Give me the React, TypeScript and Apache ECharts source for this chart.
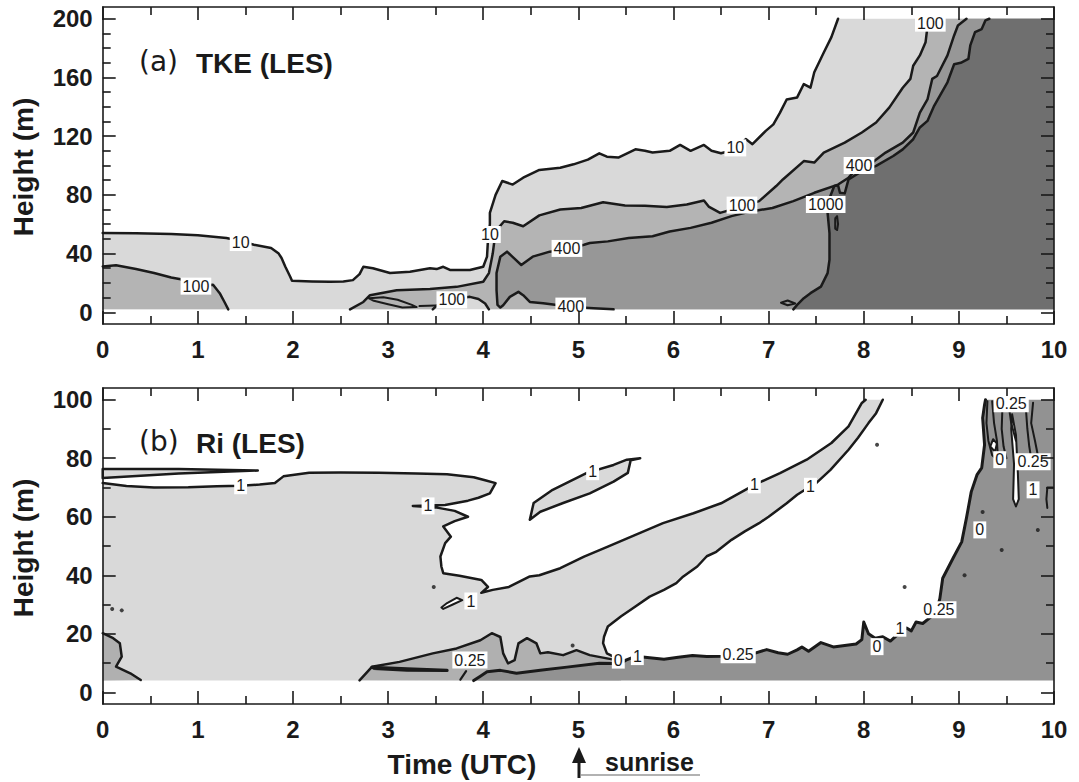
import React, { useEffect, useRef } from "react";
import * as echarts from "echarts";

// ---- axis ranges and tick labels ----
const TIME_MIN = 0;
const TIME_MAX = 10;
const TKE_BASE = 2; // lowest model level (m)
const TKE_TOP = 200;
const RI_BASE = 4;
const RI_TOP = 100;
const timeTicks = [0, 1, 2, 3, 4, 5, 6, 7, 8, 9, 10];
const tkeHeightLabels = [0, 40, 80, 120, 160, 200];
const riHeightLabels = [0, 20, 40, 60, 80, 100];

// ---- (a) TKE contours, [time UTC, height m] ----
const tke10Line = [
  [0, 54], [0.35, 53.8], [0.72, 53.4], [1.0, 52.5], [1.3, 50.6], [1.45, 48.5], [1.59, 46], [1.77, 43.8],
  [1.85, 40], [1.88, 37], [1.92, 31], [1.97, 24.4], [1.99, 21.5], [2.2, 21], [2.39, 20.8], [2.53, 21],
  [2.63, 21.9], [2.7, 26], [2.74, 31], [2.84, 30], [3.02, 26.7], [3.23, 27.6], [3.44, 30], [3.51, 29.4],
  [3.58, 31], [3.65, 28.8], [3.86, 28.8], [4.0, 31], [4.04, 37.9], [4.05, 49.3], [4.07, 60], [4.07, 67.7],
  [4.13, 80], [4.2, 89.4], [4.31, 87], [4.42, 91.7], [4.59, 97], [4.81, 98.5], [4.95, 100.8], [5.1, 104],
  [5.22, 108.3], [5.3, 106], [5.42, 105.4], [5.6, 111], [5.7, 110], [5.78, 108.8], [5.96, 110], [6.07, 114],
  [6.18, 110], [6.25, 112], [6.32, 114], [6.4, 110], [6.5, 108.3], [6.65, 111], [6.76, 118], [6.83, 114.5],
  [6.97, 123.6], [7.05, 128], [7.12, 136], [7.19, 145], [7.3, 146.4], [7.37, 155.5], [7.44, 153], [7.48, 163.5],
  [7.58, 177], [7.66, 187.5], [7.73, 200],
];
const tke100LeftLine = [
  [0, 31.2], [0.14, 32], [0.35, 29.5], [0.54, 26.7], [0.72, 23.7], [0.82, 22.5], [0.98, 18], [1.16, 18.7],
  [1.23, 13], [1.28, 7], [1.32, 2],
];
const tke100Line = [
  [2.6, 2], [2.74, 7], [2.81, 11.6], [3.09, 15], [3.44, 15.8], [3.72, 17.3], [4.0, 20.8], [4.06, 26.7],
  [4.1, 40], [4.12, 50], [4.14, 56], [4.22, 62], [4.31, 61], [4.42, 58.6], [4.59, 66], [4.81, 70],
  [5.03, 71], [5.26, 75], [5.49, 72.7], [5.7, 72.5], [5.93, 71.8], [6.14, 73.4], [6.32, 76.2], [6.37, 72],
  [6.49, 67.7], [6.72, 72], [6.9, 75.7], [7.08, 86], [7.15, 90.5], [7.37, 103], [7.48, 102], [7.58, 108.8],
  [7.8, 115.6], [7.98, 122.5], [8.13, 129.3], [8.27, 139.6], [8.41, 153], [8.49, 159], [8.52, 168],
  [8.59, 175], [8.65, 184], [8.68, 200],
];
const tke100LowerLine = [
  [4.06, 2], [4.02, 6], [3.95, 9], [3.86, 10.5], [3.75, 9.5], [3.6, 8.5], [3.52, 5], [3.47, 2],
];
const tke400Loop = [
  [2.8, 9.5], [2.95, 10.2], [3.1, 8.5], [3.25, 5], [3.3, 3.5], [3.15, 3.2], [3.0, 5.5], [2.85, 7.8], [2.8, 9.5],
];
const tke400Dash = [[3.33, 4.2], [3.5, 4.6]];
const tke400Line = [
  [5.37, 2], [5.16, 2.7], [4.94, 3.6], [4.63, 6.2], [4.49, 7], [4.42, 11.6], [4.37, 13.9], [4.28, 10.5],
  [4.21, 4.8], [4.18, 3.2], [4.15, 5], [4.14, 15], [4.14, 26.7], [4.18, 37.9], [4.25, 41.3], [4.32, 37],
  [4.4, 32.2], [4.52, 37.9], [4.7, 41.3], [4.88, 43], [5.06, 46], [5.12, 47.2], [5.31, 48.3], [5.53, 50.6],
  [5.78, 51.8], [5.96, 55], [6.18, 57.5], [6.4, 61], [6.61, 65.5], [6.83, 68.9], [7.04, 71], [7.26, 75.7],
  [7.48, 81.4], [7.73, 87], [7.84, 91.7], [7.93, 98], [8.09, 102], [8.23, 108.8], [8.41, 115.6], [8.52, 122.5],
  [8.59, 136], [8.67, 145], [8.72, 159], [8.77, 161], [8.88, 175], [8.95, 188.6], [8.99, 195.4], [9.08, 200],
];
const tke1000Line = [
  [7.26, 2], [7.3, 5], [7.37, 9.6], [7.44, 13], [7.55, 17.5], [7.62, 26.7], [7.64, 35.8], [7.64, 54],
  [7.62, 67.7], [7.63, 76], [7.69, 86], [7.73, 86.5], [7.75, 81.4], [7.8, 81], [7.84, 90.5], [7.95, 95],
  [8.13, 99.7], [8.31, 106.5], [8.41, 111], [8.52, 117.9], [8.59, 125.9], [8.67, 130.4], [8.74, 140.7],
  [8.81, 148.7], [8.88, 156.7], [8.95, 169], [9.02, 170], [9.1, 172.6], [9.12, 181.8], [9.17, 190.9],
  [9.24, 193], [9.28, 198.9], [9.32, 200],
];
const tke1000Loop = [[7.13, 6.5], [7.2, 8], [7.28, 6], [7.2, 4.8], [7.13, 6.5]];
const tke1000Drop = [[7.7, 64], [7.72, 65.5], [7.73, 60], [7.72, 56], [7.7, 57], [7.7, 64]];
const tkeLabels = [
  [1.45, 47.5, "10"], [0.98, 17.8, "100"], [3.67, 8.5, "100"], [4.07, 53, "10"], [4.88, 43.5, "400"],
  [4.92, 4.2, "400"], [6.65, 112, "10"], [6.72, 73, "100"], [7.95, 100, "400"], [7.6, 73.4, "1000"],
  [8.7, 197, "100"],
];

// ---- (b) Richardson number contours, [time UTC, height m] ----
const riWedgeLine = [[0, 76.3], [0.8, 76.3], [1.63, 75.8], [0.8, 74.8], [0, 73.2]];
const riOneUpper = [
  [0, 71.5], [0.25, 70.5], [0.54, 70], [0.9, 70.1], [1.2, 70.4], [1.45, 70.6], [1.65, 71], [1.81, 71.5],
  [1.9, 73.8], [2.17, 75], [2.5, 75.1], [2.9, 75], [3.3, 74.8], [3.62, 74.5], [3.9, 73.5], [4.02, 72.5],
  [4.13, 71.5], [4.07, 68], [3.95, 66.5], [3.84, 65.5], [3.6, 64], [3.26, 63.7], [3.5, 63.2], [3.7, 62],
  [3.84, 60], [3.7, 58.5], [3.58, 56.7], [3.66, 53.2], [3.6, 51], [3.55, 46.4], [3.56, 43], [3.58, 40.7],
  [3.75, 39.8], [3.98, 38.4], [4.05, 36], [3.98, 34], [4.1, 35], [4.27, 36], [4.49, 39.6], [4.59, 40],
  [4.81, 42.4], [5.06, 46.4], [5.31, 49.8], [5.6, 53.8], [5.89, 57.8], [6.21, 61.2], [6.5, 64.6],
  [6.85, 70.9], [7.12, 74.9], [7.4, 79.5], [7.66, 85.2], [7.84, 90.9], [7.98, 98.9], [8.02, 100],
];
const riOneLower = [
  [8.2, 100], [8.13, 95.4], [8.05, 92], [7.94, 87], [7.84, 82.9], [7.65, 76], [7.5, 71.5], [7.44, 70.4],
  [7.3, 67.5], [7.19, 64.6], [7.0, 60], [6.9, 57.8], [6.75, 55], [6.61, 52.1], [6.45, 48], [6.35, 46.5],
  [6.25, 43], [6.1, 39.5], [6.03, 37.3], [5.9, 35], [5.75, 32.7], [5.6, 29.3], [5.45, 26], [5.31, 22.5],
  [5.27, 19], [5.26, 16.8], [5.3, 13.3], [5.38, 12],
];
const riHole = [[3.58, 28.5], [3.68, 30], [3.78, 31.5], [3.72, 32.3], [3.62, 30.5], [3.56, 29], [3.58, 28.5]];
const riIsland = [
  [4.49, 59], [4.53, 64.7], [4.73, 69.2], [5.09, 75], [5.37, 77.7], [5.51, 79.5], [5.65, 80], [5.55, 79.3],
  [5.52, 75], [5.37, 72], [5.12, 68], [4.84, 64.7], [4.6, 61.7], [4.49, 59],
];
const riQuarterLine = [
  [2.7, 4.1], [2.83, 8.7], [3.12, 10.4], [3.47, 13.3], [3.72, 15], [3.97, 17.8], [4.09, 20.2], [4.18, 18.9],
  [4.21, 13.3], [4.26, 9.9], [4.33, 11], [4.37, 16.7], [4.46, 18.5], [4.56, 16.7], [4.6, 13.3], [4.68, 13.7],
  [4.84, 12.7], [4.98, 14.4], [5.12, 12.7], [5.3, 11.6], [5.4, 11],
];
const riZeroSliver = [[2.83, 8.5], [3.2, 8.0], [3.62, 7.5], [3.2, 7.6], [2.85, 8.2]];
const riZeroStroke = [[3.76, 4.3], [3.82, 7.2]];
const riZeroLine = [
  [3.9, 4], [3.97, 5.5], [4.04, 7], [4.18, 7.5], [4.35, 6.5], [4.6, 7.5], [4.88, 8.6], [5.22, 9.9],
  [5.44, 9.8], [5.5, 11], [5.6, 12.3], [5.75, 11.8], [5.9, 11.3], [6.05, 12], [6.2, 12.6], [6.35, 12.2],
  [6.5, 12.3], [6.7, 13], [6.85, 13.3], [6.98, 14.6], [7.1, 13.5], [7.2, 13], [7.3, 14.5], [7.35, 15.5],
  [7.42, 14], [7.55, 17], [7.68, 15.5], [7.8, 16], [7.92, 16.5], [7.98, 18], [8.0, 24], [8.05, 20],
  [8.12, 18.5], [8.2, 19], [8.28, 17.5], [8.35, 19.5], [8.45, 22], [8.5, 21], [8.55, 24], [8.62, 23.5],
  [8.7, 25.6], [8.76, 27.5], [8.8, 32], [8.83, 39], [8.94, 45.9], [9.03, 51.4], [9.08, 59.6], [9.13, 68.5],
  [9.19, 74.3], [9.24, 76.7], [9.27, 84.6], [9.25, 93.8], [9.27, 98.3], [9.28, 100],
];
const riLeftLine = [
  [0, 20.2], [0.11, 18.5], [0.18, 16.8], [0.2, 12.2], [0.14, 8.8], [0.29, 6.5], [0.4, 4.2],
];
const riStreakA = [
  [9.56, 95], [9.6, 88], [9.62, 75], [9.63, 66], [9.6, 63.5], [9.57, 66], [9.58, 78], [9.55, 90], [9.56, 95],
];
const riStreakB = [[9.33, 84], [9.36, 86.5], [9.4, 85], [9.38, 82.2], [9.33, 84]];
const riScribbles = [
  [[9.3, 99.5], [9.29, 92], [9.31, 86], [9.35, 81], [9.42, 79]],
  [[9.35, 99.5], [9.37, 92], [9.4, 86], [9.41, 80]],
  [[9.46, 99.5], [9.45, 90], [9.47, 84], [9.5, 80]],
  [[9.52, 99], [9.55, 92], [9.6, 86]],
  [[9.7, 99], [9.72, 90], [9.74, 84], [9.76, 80]],
  [[9.78, 99], [9.76, 92], [9.8, 86], [9.83, 81]],
  [[9.99, 70], [9.93, 70], [9.92, 66], [9.93, 63]],
];
const riSpecks = [
  [0.1, 28.5], [0.2, 28], [3.48, 36], [4.94, 16], [8.14, 84.6], [8.43, 36], [9.06, 40], [9.45, 48.6],
  [9.83, 55.5], [9.25, 61.6],
];
const riLabels = [
  [1.45, 70.6, "1"], [3.42, 63.7, "1"], [3.87, 31.2, "1"], [5.15, 75.4, "1"], [6.85, 70.9, "1"],
  [7.44, 70.4, "1"], [3.86, 11, "0.25"], [5.42, 11, "0"], [5.62, 12.2, "1"], [6.68, 12.8, "0.25"],
  [8.14, 15.6, "0"], [8.38, 21.9, "1"], [8.79, 28.2, "0.25"], [9.22, 55.5, "0"], [9.43, 79.5, "0"],
  [9.78, 78.8, "0.25"], [9.78, 69.2, "1"], [9.55, 98.6, "0.25"],
];

// ---- styling ----
const INK = "#1a1a1a";
const SANS = "'Liberation Sans', Arial, Helvetica, sans-serif";
const TKE_SHADES = { c10: "#d9d9d9", c100: "#b4b4b4", c400: "#979797", c1000: "#6f6f6f" };
const RI_SHADES = { light: "#d9d9d9", mid: "#b0b0b0", dark: "#929292" };
const LINE_W = 2.5;

type Pt = number[];

const fillSeries = (pts: Pt[], color: string, xi: number, yi: number, z: number) => ({
  type: "custom",
  xAxisIndex: xi,
  yAxisIndex: yi,
  z,
  silent: true,
  data: [pts[0]],
  renderItem: (_params: any, api: any) => ({
    type: "polygon",
    shape: { points: pts.map((p) => api.coord(p)) },
    style: { fill: color, stroke: "none" },
  }),
});

const lineSeries = (pts: Pt[], xi: number, yi: number, width = LINE_W) => ({
  type: "line",
  xAxisIndex: xi,
  yAxisIndex: yi,
  z: 10,
  silent: true,
  data: pts,
  symbol: "none",
  showSymbol: false,
  lineStyle: { color: INK, width, join: "round", cap: "round" },
});

const labelSeries = (items: any[], xi: number, yi: number) => ({
  type: "custom",
  xAxisIndex: xi,
  yAxisIndex: yi,
  z: 12,
  silent: true,
  data: items.map((d) => [d[0], d[1]]),
  renderItem: (params: any, api: any) => {
    const d = items[params.dataIndex];
    const [px, py] = api.coord([d[0], d[1]]);
    return {
      type: "text",
      x: px,
      y: py,
      style: {
        text: d[2],
        fill: INK,
        font: `16px ${SANS}`,
        align: "center",
        verticalAlign: "middle",
        backgroundColor: "#ffffff",
        padding: [1, 2, 0, 2],
      },
    };
  },
});

const tickFont = { color: INK, fontFamily: SANS, fontWeight: "bold" as const, fontSize: 24 };
const frameLine = { color: INK, width: 1.6 };

const xAxisFor = (gridIndex: number, position: string, showLabels: boolean) => ({
  type: "value",
  gridIndex,
  position,
  min: TIME_MIN,
  max: TIME_MAX,
  interval: 1,
  z: 20,
  axisLine: { show: true, onZero: false, lineStyle: frameLine },
  axisTick: { show: true, inside: true, length: 13, lineStyle: frameLine },
  minorTick: { show: true, splitNumber: 2, length: 8, lineStyle: frameLine },
  axisLabel: {
    show: showLabels,
    margin: 13,
    showMinLabel: true,
    showMaxLabel: true,
    customValues: timeTicks,
    ...tickFont,
  },
  splitLine: { show: false },
  minorSplitLine: { show: false },
});

const yAxisFor = (
  gridIndex: number,
  position: string,
  min: number,
  max: number,
  ticks: number[],
  len: number,
  showLabels: boolean,
  showLine: boolean
) => ({
  type: "value",
  gridIndex,
  position,
  min,
  max,
  z: 20,
  axisLine: { show: showLine, onZero: false, lineStyle: frameLine },
  axisTick: { show: true, inside: true, length: len, customValues: ticks, lineStyle: frameLine },
  axisLabel: { show: showLabels, customValues: ticks, margin: 10, ...tickFont },
  splitLine: { show: false },
});

// minor height ticks every 10 m between labelled ones
const minorTicks = (labels: number[]) => {
  const out: number[] = [];
  for (let h = labels[0]; h <= labels[labels.length - 1]; h += 10) {
    if (!labels.includes(h)) out.push(h);
  }
  return out;
};

export default function App() {
  const ref = useRef<HTMLDivElement>(null);

  useEffect(() => {
    if (!ref.current) return;
    const chart = echarts.init(ref.current, undefined, { renderer: "svg" });

    const tkePad = (TKE_TOP - 0) * 0.04;
    const riPad = (RI_TOP - 0) * 0.04;

    const tkeFill10 = [...tke10Line, [TIME_MAX, TKE_TOP], [TIME_MAX, TKE_BASE], [TIME_MIN, TKE_BASE]];
    const tkeFill100Left = [...tke100LeftLine, [TIME_MIN, TKE_BASE]];
    const tkeFill100 = [...tke100Line, [TIME_MAX, TKE_TOP], [TIME_MAX, TKE_BASE], ...tke100LowerLine];
    const tkeFill400 = [...tke400Line, [TIME_MAX, TKE_TOP], [TIME_MAX, TKE_BASE]];
    const tkeFill1000 = [...tke1000Line, [TIME_MAX, TKE_TOP], [TIME_MAX, TKE_BASE]];

    const lowerEnd = riOneLower[riOneLower.length - 1];
    const quarterEnd = riQuarterLine[riQuarterLine.length - 1];
    const riFillLight = [...riOneUpper, ...riOneLower, [lowerEnd[0] + 0.05, RI_BASE], [TIME_MIN, RI_BASE]];
    const riFillLeft = [...riLeftLine, [TIME_MIN, RI_BASE]];
    const riFillMid = [...riQuarterLine, [quarterEnd[0] + 0.05, RI_BASE]];
    const riFillDark = [...riZeroLine, [TIME_MAX, RI_TOP], [TIME_MAX, RI_BASE]];

    const series: any[] = [
      // panel (a)
      fillSeries(tkeFill10, TKE_SHADES.c10, 0, 0, 1),
      fillSeries(tkeFill100Left, TKE_SHADES.c100, 0, 0, 2),
      fillSeries(tkeFill100, TKE_SHADES.c100, 0, 0, 2),
      fillSeries(tkeFill400, TKE_SHADES.c400, 0, 0, 3),
      fillSeries(tkeFill1000, TKE_SHADES.c1000, 0, 0, 4),
      fillSeries(tke1000Drop, TKE_SHADES.c1000, 0, 0, 5),
      lineSeries(tke10Line, 0, 0),
      lineSeries(tke100LeftLine, 0, 0),
      lineSeries(tke100Line, 0, 0),
      lineSeries(tke100LowerLine, 0, 0),
      lineSeries(tke400Loop, 0, 0, 2),
      lineSeries(tke400Dash, 0, 0, 2),
      lineSeries(tke400Line, 0, 0),
      lineSeries(tke1000Line, 0, 0),
      lineSeries(tke1000Loop, 0, 0, 2),
      lineSeries(tke1000Drop, 0, 0, 2),
      labelSeries(tkeLabels, 0, 0),
      // panel (b)
      fillSeries(riFillLight, RI_SHADES.light, 2, 4, 1),
      fillSeries(riWedgeLine, RI_SHADES.light, 2, 4, 1),
      fillSeries(riIsland, RI_SHADES.light, 2, 4, 1),
      fillSeries(riHole, "#ffffff", 2, 4, 2),
      fillSeries(riFillLeft, RI_SHADES.mid, 2, 4, 2),
      fillSeries(riFillMid, RI_SHADES.mid, 2, 4, 2),
      fillSeries(riFillDark, RI_SHADES.dark, 2, 4, 3),
      fillSeries(riStreakA, "#ffffff", 2, 4, 4),
      fillSeries(riStreakB, "#ffffff", 2, 4, 4),
      lineSeries([...riWedgeLine, riWedgeLine[0]], 2, 4),
      lineSeries(riOneUpper, 2, 4),
      lineSeries(riOneLower, 2, 4),
      lineSeries(riHole, 2, 4, 2),
      lineSeries(riIsland, 2, 4),
      lineSeries(riQuarterLine, 2, 4),
      lineSeries(riZeroSliver, 2, 4, 3.2),
      lineSeries(riZeroStroke, 2, 4, 2.2),
      lineSeries(riZeroLine, 2, 4, 3),
      lineSeries(riLeftLine, 2, 4),
      lineSeries(riStreakA, 2, 4, 2),
      lineSeries(riStreakB, 2, 4, 2),
      ...riScribbles.map((s) => lineSeries(s, 2, 4, 2)),
      {
        type: "scatter",
        xAxisIndex: 2,
        yAxisIndex: 4,
        z: 11,
        silent: true,
        symbol: "circle",
        symbolSize: 4,
        itemStyle: { color: INK },
        data: riSpecks,
      },
      labelSeries(riLabels, 2, 4),
    ];

    const axisTitle = `bold 28px ${SANS}`;

    chart.setOption({
      animation: false,
      backgroundColor: "#ffffff",
      grid: [
        { left: 102.7, top: 7, width: 951.3, height: 317, outerBoundsMode: "none", containLabel: false },
        { left: 102.7, top: 388, width: 951.3, height: 316, outerBoundsMode: "none", containLabel: false },
      ],
      xAxis: [
        xAxisFor(0, "bottom", true),
        xAxisFor(0, "top", false),
        xAxisFor(1, "bottom", true),
        xAxisFor(1, "top", false),
      ],
      yAxis: [
        yAxisFor(0, "left", -tkePad, TKE_TOP + tkePad, tkeHeightLabels, 13, true, true),
        yAxisFor(0, "left", -tkePad, TKE_TOP + tkePad, minorTicks(tkeHeightLabels), 8, false, false),
        yAxisFor(0, "right", -tkePad, TKE_TOP + tkePad, tkeHeightLabels, 13, false, true),
        yAxisFor(0, "right", -tkePad, TKE_TOP + tkePad, minorTicks(tkeHeightLabels), 8, false, false),
        yAxisFor(1, "left", -riPad, RI_TOP + riPad, riHeightLabels, 13, true, true),
        yAxisFor(1, "left", -riPad, RI_TOP + riPad, minorTicks(riHeightLabels), 8, false, false),
        yAxisFor(1, "right", -riPad, RI_TOP + riPad, riHeightLabels, 13, false, true),
        yAxisFor(1, "right", -riPad, RI_TOP + riPad, minorTicks(riHeightLabels), 8, false, false),
      ],
      series,
      graphic: [
        {
          type: "text",
          x: 139,
          y: 61,
          z: 30,
          style: { text: "(a)", fill: INK, font: `28px 'DejaVu Sans', sans-serif`, verticalAlign: "middle" },
        },
        {
          type: "text",
          x: 196,
          y: 63,
          z: 30,
          style: { text: "TKE (LES)", fill: INK, font: `bold 28px ${SANS}`, verticalAlign: "middle" },
        },
        {
          type: "text",
          x: 139,
          y: 441,
          z: 30,
          style: { text: "(b)", fill: INK, font: `28px 'DejaVu Sans', sans-serif`, verticalAlign: "middle" },
        },
        {
          type: "text",
          x: 196,
          y: 443,
          z: 30,
          style: { text: "Ri (LES)", fill: INK, font: `bold 28px ${SANS}`, verticalAlign: "middle" },
        },
        {
          type: "text",
          x: 23,
          y: 167,
          rotation: Math.PI / 2,
          style: { text: "Height (m)", fill: INK, font: axisTitle, align: "center", verticalAlign: "middle" },
        },
        {
          type: "text",
          x: 23,
          y: 548,
          rotation: Math.PI / 2,
          style: { text: "Height (m)", fill: INK, font: axisTitle, align: "center", verticalAlign: "middle" },
        },
        {
          type: "text",
          x: 462,
          y: 764,
          style: { text: "Time (UTC)", fill: INK, font: axisTitle, align: "center", verticalAlign: "middle" },
        },
        // sunrise marker
        { type: "line", shape: { x1: 581, y1: 775, x2: 700, y2: 775 }, style: { stroke: "#999", lineWidth: 1.5 } },
        { type: "line", shape: { x1: 579, y1: 778, x2: 579, y2: 760 }, style: { stroke: INK, lineWidth: 3 } },
        { type: "polygon", shape: { points: [[572, 763], [586, 763], [579, 747]] }, style: { fill: INK } },
        {
          type: "text",
          x: 605,
          y: 762,
          style: { text: "sunrise", fill: INK, font: `bold 25px ${SANS}`, verticalAlign: "middle" },
        },
      ],
    });

    return () => chart.dispose();
  }, []);

  return (
    <div
      ref={ref}
      style={{ position: "fixed", left: 0, top: 0, width: 1079, height: 782, background: "#fff" }}
    />
  );
}
